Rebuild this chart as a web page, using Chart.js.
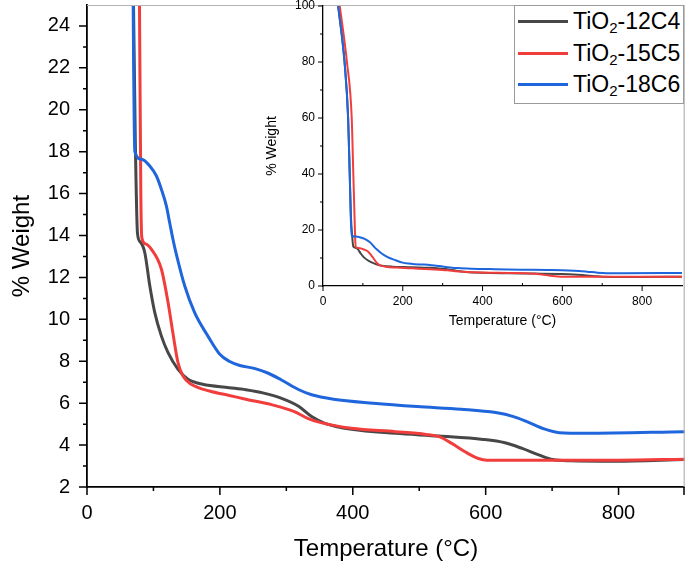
<!DOCTYPE html>
<html>
<head>
<meta charset="utf-8">
<title>TGA TiO2</title>
<script src="https://cdn.jsdelivr.net/npm/chart.js@4.4.1/dist/chart.umd.min.js"></script>
<style>
    html, body { margin: 0; padding: 0; background: #fff; }
    #wrap { position: relative; width: 685px; height: 564px; overflow: hidden; }
    #main { position: absolute; left: 0; top: 0; }
    #inset { position: absolute; left: 262px; top: 0; }
    #legend {
        position: absolute; left: 514px; top: 5px; width: 168px; height: 97px;
        border: 1px solid #9a9a9a; background: #fff;
        font-family: "Liberation Sans", Arial, sans-serif; font-size: 23px; color: #000;
    }
    #legend .row { position: absolute; left: 0; width: 168px; height: 30px; }
    #legend .swatch { position: absolute; left: 3px; top: 14px; width: 50px; height: 3px; }
    #legend .txt { position: absolute; left: 58px; top: 3px; white-space: nowrap; line-height: 24px; }
    #legend sub { font-size: 15px; vertical-align: -4px; line-height: 0; }
</style>
</head>
<body>
<div id="wrap">
    <canvas id="main" width="685" height="564"></canvas>
    <canvas id="inset" width="423" height="332"></canvas>
    <div id="legend"></div>
</div>
<script>
// ======================================
// DADOS
// ======================================
const seriesNames = ['12C4', '15C5', '18C6'];
const seriesColors = ['#474747', '#f23d3d', '#1f66dc'];

const temp12C4 = [38, 54, 63, 67, 70, 73, 76, 80, 87, 94.5, 102, 112, 122, 137, 152, 174, 214, 239, 266, 292, 319, 338, 358, 398, 464, 530, 596, 629, 655, 681, 701, 728, 793, 900];
const weight12C4 = [100, 80, 60, 40, 25, 18, 14.1, 13.7, 13.18, 11.6, 10.32, 9.2, 8.41, 7.61, 7.14, 6.9, 6.74, 6.64, 6.48, 6.24, 5.84, 5.36, 5.04, 4.75, 4.56, 4.43, 4.27, 4.11, 3.84, 3.52, 3.31, 3.25, 3.23, 3.31];

const temp15C5 = [42, 60, 72, 76, 79, 81, 82.5, 88, 97, 112, 122, 130, 137, 144.5, 157, 184.5, 214, 239, 279, 312, 332, 352, 398, 464, 510, 530, 549, 569, 589, 602, 662, 800, 900];
const weight15C5 = [100, 80, 60, 40, 25, 16, 13.9, 13.6, 13.34, 12.39, 10.8, 9.2, 7.93, 7.3, 6.9, 6.58, 6.37, 6.19, 5.92, 5.6, 5.28, 5.07, 4.8, 4.64, 4.51, 4.4, 4.08, 3.68, 3.36, 3.28, 3.28, 3.28, 3.33];

const temp18C6 = [38, 54, 63, 67, 69.5, 72, 82, 94.5, 104.5, 112, 119.5, 124.5, 129.5, 134.5, 147, 162, 182, 199.5, 214, 230, 253, 272, 292, 319, 338, 371, 431, 497, 563, 615, 642, 662, 688, 711, 750, 900];
const weight18C6 = [100, 80, 60, 40, 25, 18, 17.64, 17.32, 16.84, 16.2, 15.4, 14.6, 13.8, 13.1, 11.6, 10.32, 9.2, 8.35, 8.0, 7.8, 7.65, 7.44, 7.12, 6.64, 6.4, 6.19, 6.0, 5.84, 5.71, 5.55, 5.36, 5.12, 4.77, 4.59, 4.56, 4.64];

const seriesTemps = [temp12C4, temp15C5, temp18C6];
const seriesWeights = [weight12C4, weight15C5, weight18C6];

// ticks
const mainXTicks = [0, 200, 400, 600, 800];
const mainXMarks = [0, 200, 400, 600, 800, 900];
const mainXMinor = [100, 300, 500, 700];
const mainYTicks = [2, 4, 6, 8, 10, 12, 14, 16, 18, 20, 22, 24];
const mainYMinor = [3, 5, 7, 9, 11, 13, 15, 17, 19, 21, 23];
const insetXTicks = [0, 200, 400, 600, 800];
const insetXMinor = [100, 300, 500, 700];
const insetYTicks = [0, 20, 40, 60, 80, 100];
const insetYMinor = [10, 30, 50, 70, 90];

const FONT = '"Liberation Sans", Arial, sans-serif';

// ======================================
// PLUGIN: marcas de escala + moldura
// ======================================
const tickMarks = {
    id: 'tickMarks',
    afterDraw(chart, args, o) {
        const ctx = chart.ctx;
        const xs = chart.scales.x;
        const ys = chart.scales.y;
        const a = chart.chartArea;
        ctx.save();

        if (o.frame) {
            ctx.strokeStyle = '#b4b4b4';
            ctx.lineWidth = 1.2;
            ctx.beginPath();
            ctx.moveTo(a.left, a.top + 0.5);
            ctx.lineTo(a.right - 0.8, a.top + 0.5);
            ctx.lineTo(a.right - 0.8, a.bottom);
            ctx.stroke();
        }

        ctx.strokeStyle = '#000';
        ctx.lineWidth = o.width;
        ctx.beginPath();
        o.xMajor.forEach(v => {
            const p = Math.min(xs.getPixelForValue(v), a.right - 1);
            ctx.moveTo(p, a.bottom);
            ctx.lineTo(p, a.bottom + o.major);
        });
        o.xMinor.forEach(v => {
            const p = xs.getPixelForValue(v);
            ctx.moveTo(p, a.bottom);
            ctx.lineTo(p, a.bottom + o.xMinorDir * o.minor);
        });
        o.yMajor.forEach(v => {
            const p = ys.getPixelForValue(v);
            ctx.moveTo(a.left, p);
            ctx.lineTo(a.left - o.major, p);
        });
        o.yMinor.forEach(v => {
            const p = ys.getPixelForValue(v);
            ctx.moveTo(a.left, p);
            ctx.lineTo(a.left - o.minor, p);
        });
        ctx.stroke();
        ctx.restore();
    }
};

function buildDatasets(lineWidth) {
    return seriesTemps.map((temps, i) => ({
        label: 'TiO2-' + seriesNames[i],
        data: temps.map((t, j) => ({ x: t, y: seriesWeights[i][j] })),
        borderColor: seriesColors[i],
        borderWidth: lineWidth,
        pointRadius: 0,
        fill: false,
        cubicInterpolationMode: 'monotone',
        order: 2 - i
    }));
}

function fixedTicks(list) {
    return scale => { scale.ticks = list.map(v => ({ value: v })); };
}

function buildOptions(cfg) {
    return {
        responsive: false,
        animation: false,
        events: [],
        layout: { padding: cfg.padding },
        plugins: {
            legend: { display: false },
            tooltip: { enabled: false },
            tickMarks: cfg.marks
        },
        scales: {
            x: {
                type: 'linear',
                min: cfg.xMin, max: cfg.xMax,
                afterBuildTicks: fixedTicks(cfg.xTicks),
                afterFit: s => { s.height = cfg.xHeight; s.paddingLeft = 0; s.paddingRight = 0; },
                grid: { display: false, drawTicks: false },
                border: { display: true, color: '#000', width: cfg.marks.width + 0.3 },
                ticks: {
                    autoSkip: false, maxRotation: 0, color: '#000',
                    padding: cfg.xPad,
                    font: { family: FONT, size: cfg.tickSize }
                },
                title: {
                    display: true, text: 'Temperature (°C)', color: '#000',
                    font: { family: FONT, size: cfg.titleSize },
                    padding: { top: 0, bottom: cfg.xTitlePad }
                }
            },
            y: {
                type: 'linear',
                min: cfg.yMin, max: cfg.yMax,
                afterBuildTicks: fixedTicks(cfg.yTicks),
                afterFit: s => { s.width = cfg.yWidth; s.paddingTop = 0; s.paddingBottom = 0; },
                grid: { display: false, drawTicks: false },
                border: { display: true, color: '#000', width: cfg.marks.width + 0.3 },
                ticks: {
                    color: '#000',
                    padding: cfg.yPad,
                    font: { family: FONT, size: cfg.tickSize }
                },
                title: {
                    display: true, text: '% Weight', color: '#000',
                    font: { family: FONT, size: cfg.titleSize },
                    padding: { top: cfg.yTitlePad, bottom: 0 }
                }
            }
        }
    };
}

// ======================================
// GRÁFICO PRINCIPAL
// ======================================
new Chart(document.getElementById('main'), {
    type: 'line',
    data: { datasets: buildDatasets(3) },
    options: buildOptions({
        padding: { left: 0, right: 0, top: 5, bottom: 0 },
        xMin: 0, xMax: 900, yMin: 2, yMax: 25,
        xTicks: mainXTicks, yTicks: mainYTicks,
        xHeight: 77, yWidth: 87,
        xPad: 14, yPad: 17,
        tickSize: 20, titleSize: 24,
        xTitlePad: 0, yTitlePad: 8,
        marks: { frame: true, width: 1.5, major: 8, minor: 4, xMinorDir: 1,
                 xMajor: mainXMarks, xMinor: mainXMinor, yMajor: mainYTicks, yMinor: mainYMinor }
    }),
    plugins: [tickMarks]
});

// ======================================
// GRÁFICO INSERIDO (escala completa)
// ======================================
new Chart(document.getElementById('inset'), {
    type: 'line',
    data: { datasets: buildDatasets(2) },
    options: buildOptions({
        padding: { left: 0, right: 3, top: 6, bottom: 0 },
        xMin: 0, xMax: 900, yMin: 0, yMax: 100,
        xTicks: insetXTicks, yTicks: insetYTicks,
        xHeight: 46, yWidth: 61,
        xPad: 8, yPad: 8,
        tickSize: 12, titleSize: 14,
        xTitlePad: 2, yTitlePad: 2,
        marks: { frame: false, width: 1, major: 5, minor: 3, xMinorDir: -1,
                 xMajor: insetXTicks, xMinor: insetXMinor, yMajor: insetYTicks, yMinor: insetYMinor }
    }),
    plugins: [tickMarks]
});

// ======================================
// LEGENDA
// ======================================
const legend = document.getElementById('legend');
seriesNames.forEach((name, i) => {
    const row = document.createElement('div');
    row.className = 'row';
    row.style.top = (i * 31.5) + 'px';

    const sw = document.createElement('div');
    sw.className = 'swatch';
    sw.style.background = seriesColors[i];

    const txt = document.createElement('div');
    txt.className = 'txt';
    txt.innerHTML = 'TiO<sub>2</sub>-' + name;

    row.appendChild(sw);
    row.appendChild(txt);
    legend.appendChild(row);
});
</script>
</body>
</html>
